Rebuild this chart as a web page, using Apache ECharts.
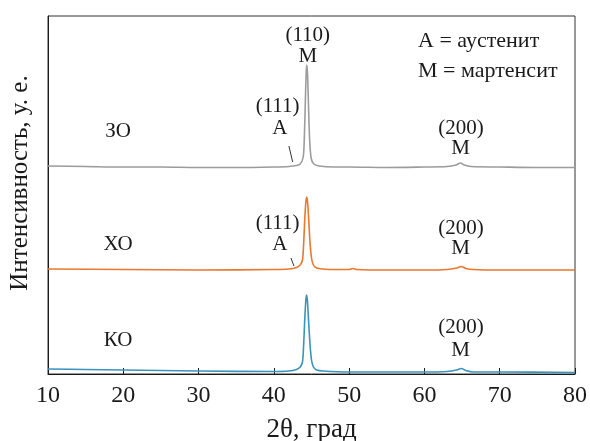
<!DOCTYPE html>
<html><head><meta charset="utf-8">
<script src="https://cdn.jsdelivr.net/npm/echarts@6/dist/echarts.min.js"></script>
<style>html,body{margin:0;padding:0;background:#fff}#c{width:590px;height:441px}</style>
</head><body><div id="c"></div>
<script>
// 2θ ticks
const xTicks = [10, 20, 30, 40, 50, 60, 70, 80];
// Pattern ЗО (grey): [2θ, intensity above own baseline]
const zoData = [[10,1],[15,0.5],[20,0],[25,0],[30,-0.5],[35,-0.5],[40,0],[42,0.5],[43,1.5],[43.5,3],[43.9,10],[44.05,30],[44.18,65],[44.3,95],[44.38,102],[44.48,92],[44.6,62],[44.75,28],[44.95,9],[45.3,3],[46,1],[48,0],[50,0],[55,-0.5],[60,0],[63,0.5],[64.2,2],[64.8,4],[65.3,2],[66.2,0.5],[70,0],[75,-0.5],[80,-0.5]];
// Pattern ХО (orange)
const xoData = [[10,1],[20,0.5],[30,0],[40,0.5],[42,1],[43,2.5],[43.5,5],[43.8,10],[43.95,25],[44.1,50],[44.25,68],[44.38,73],[44.5,66],[44.65,48],[44.8,28],[45.0,12],[45.25,5],[45.7,2],[46.5,1],[48,0.5],[50,0.5],[50.5,1.5],[51,0.5],[55,0],[60,0],[63,0.5],[64.3,2],[64.9,3.5],[65.5,1.5],[66.5,0.5],[70,0],[80,0]];
// Pattern КО (blue)
const koData = [[10,3],[15,2.5],[20,2],[30,1],[40,0.5],[42,1],[43,2.5],[43.5,5],[43.8,10],[43.95,26],[44.1,52],[44.25,72],[44.35,77],[44.47,70],[44.62,50],[44.8,28],[45.0,12],[45.25,5],[45.7,2],[46.5,1],[50,0],[55,0],[60,0],[63,0.5],[64.3,2],[64.9,3.5],[65.5,1.5],[66.5,0],[70,0],[80,-0.5]];
// vertical offsets of the stacked patterns
const offsets = {zo: 207, xo: 104, ko: 2};
const yMax = 358;
// annotations: [2θ, y, text]
const annotations = [
  [44.5, 339, '(110)'], [44.5, 318, 'М'],
  [40.5, 268, '(111)'], [40.8, 246, 'А'],
  [40.5, 151, '(111)'], [40.8, 130, 'А'],
  [64.85, 246, '(200)'], [64.8, 226, 'М'],
  [64.85, 146, '(200)'], [64.8, 126, 'М'],
  [64.85, 47, '(200)'], [64.8, 24, 'М'],
  [19.3, 243, 'ЗО'], [19.3, 130, 'ХО'], [19.3, 34, 'КО']
];
// leader lines: [[x1,y1],[x2,y2]]
const leaders = [[[42.0, 228], [42.5, 212]], [[42.27, 116], [42.67, 108]]];
const legendLines = ['A = аустенит', 'M = мартенсит'];

const shift = (arr, off) => arr.map(p => [p[0], p[1] + off]);
const font = 'Liberation Serif';
const ink = '#1a1a1a';
const chart = echarts.init(document.getElementById('c'));
chart.setOption({
  animation: false,
  textStyle: {fontFamily: font},
  grid: {left: 48, right: 15, top: 16, bottom: 67, containLabel: false, outerBoundsMode: 'none',
         show: true, borderColor: '#333', borderWidth: 1},
  xAxis: {
    type: 'value', min: xTicks[0], max: xTicks[xTicks.length - 1], interval: 10,
    axisLine: {lineStyle: {color: ink, width: 1}},
    axisTick: {inside: true, length: 6, lineStyle: {color: ink}},
    axisLabel: {color: ink, fontSize: 24, fontFamily: font, margin: 10},
    splitLine: {show: false},
    name: '2θ, град', nameLocation: 'middle', nameGap: 42,
    nameTextStyle: {color: ink, fontSize: 27, fontFamily: font}
  },
  yAxis: {
    type: 'value', min: 0, max: yMax,
    axisLine: {show: true, lineStyle: {color: ink}},
    axisTick: {show: false}, axisLabel: {show: false}, splitLine: {show: false},
    name: 'Интенсивность, у. е.', nameLocation: 'middle', nameGap: 15,
    nameTextStyle: {color: ink, fontSize: 25, fontFamily: font, padding: [0, 0, 0, 24]}
  },
  series: [
    {type: 'line', data: shift(zoData, offsets.zo), showSymbol: false, smooth: 0.3,
     lineStyle: {color: '#9c9c9c', width: 1.6}},
    {type: 'line', data: shift(xoData, offsets.xo), showSymbol: false, smooth: 0.3,
     lineStyle: {color: '#e8782e', width: 1.6}},
    {type: 'line', data: shift(koData, offsets.ko), showSymbol: false, smooth: 0.3,
     lineStyle: {color: '#3a93bd', width: 1.6},
     markLine: {silent: true, symbol: 'none', label: {show: false},
       lineStyle: {color: '#333', width: 1, type: 'solid'},
       data: leaders.map(l => [{coord: l[0]}, {coord: l[1]}])}},
    {type: 'scatter', data: annotations, symbolSize: 0, silent: true,
     itemStyle: {opacity: 1},
     label: {show: true, position: 'inside', formatter: p => p.data[2],
       color: ink, opacity: 1, fontSize: 21, fontFamily: font}}
  ],
  graphic: legendLines.map((t, i) => ({
    type: 'text', left: 418, top: 30 + i * 30,
    style: {text: t, fontSize: 22, fontFamily: font, fill: ink}
  }))
});
</script></body></html>
